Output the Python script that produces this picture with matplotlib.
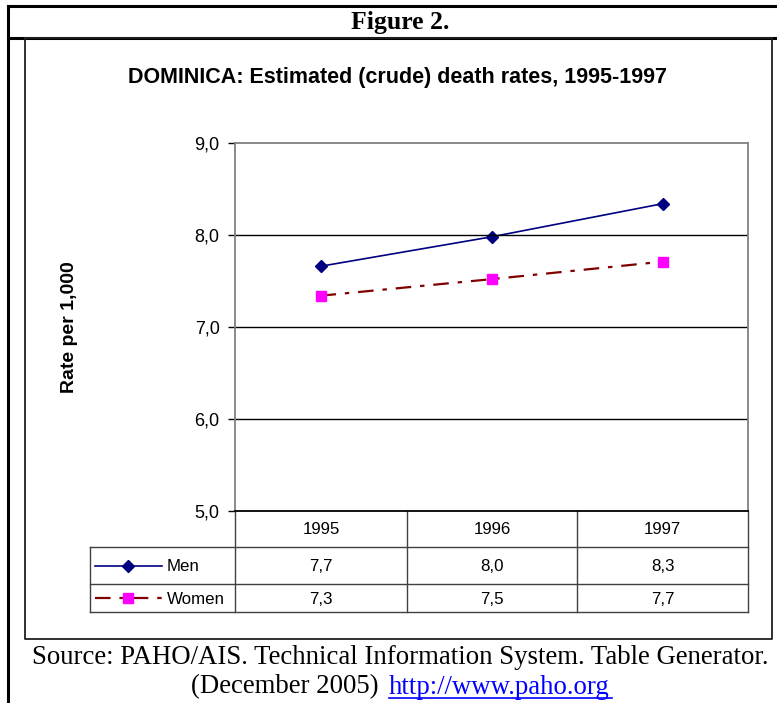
import matplotlib
matplotlib.use('Agg')
import matplotlib.pyplot as plt
import numpy as np

years = ['1995', '1996', '1997']
men = [7.66, 7.98, 8.34]
women = [7.34, 7.52, 7.71]
yticks = [5.0, 6.0, 7.0, 8.0, 9.0]

W, H = 777, 703
fig = plt.figure(figsize=(W / 100, H / 100), dpi=100)

def box(x0, y0, x1, y1):
    # pixel box (top-left origin) -> figure fraction rect
    return [x0 / W, 1 - y1 / H, (x1 - x0) / W, (y1 - y0) / H]

# overlay in pixel coordinates for frame, table and texts
ov = fig.add_axes([0, 0, 1, 1])
ov.set_xlim(0, W)
ov.set_ylim(H, 0)
ov.axis('off')

sans = 'Liberation Sans'
serif = 'Liberation Serif'

# outer frame
ov.plot([8, 777], [6, 6], color='k', lw=2.2)
ov.plot([8, 777], [38, 38], color='k', lw=2.2)
ov.plot([8, 8], [6, 703], color='k', lw=2.2)
ov.text(400, 23, 'Figure 2.', ha='center', va='center', family=serif,
        fontweight='bold', fontsize=18.5)

# chart box
ov.plot([25, 25, 772, 772, 25], [38, 639, 639, 38, 38], color='#202020', lw=1.3)

ov.text(397, 77, 'DOMINICA: Estimated (crude) death rates, 1995-1997',
        ha='center', va='center', family=sans, fontweight='bold', fontsize=15.5)
ov.text(69, 327, 'Rate per 1,000', rotation=90, ha='center', va='center',
        family=sans, fontweight='bold', fontsize=14)

# plot area
x0, x1, y0, y1 = 235, 748, 143, 511
ax = fig.add_axes(box(x0, y0, x1, y1))
xs = np.arange(len(years))
ax.plot(xs, men, color='#000080', lw=1.2, marker='D', ms=6.5,
        mfc='#000080', mec='#000080')
ax.plot(xs, women, color='#800000', lw=1.6, ls=(0, (7, 4, 2, 4)),
        marker='s', ms=7, mfc='#FF00FF', mec='#FF00FF')
ax.set_xlim(-0.5, len(years) - 0.5)
ax.set_ylim(yticks[0], yticks[-1])
ax.set_yticks(yticks)
ax.set_yticklabels([f'{v:.1f}'.replace('.', ',') for v in yticks],
                   family=sans, fontsize=13)
ax.set_xticks([])
for v in yticks[1:-1]:
    ax.axhline(v, color='k', lw=1.0)
for s in ['left', 'top', 'right']:
    ax.spines[s].set_color('#808080')
    ax.spines[s].set_linewidth(1.3)
ax.spines['bottom'].set_color('k')
ax.spines['bottom'].set_linewidth(1.3)
ax.tick_params(axis='y', length=5, width=1, color='k', pad=6)

# data table
cols = [x0, 407, 577, x1]
rows = [y1, 547, 584, 612]
tc = '#404040'
ov.plot([90, x1], [rows[1], rows[1]], color=tc, lw=1)
ov.plot([90, x1], [rows[2], rows[2]], color=tc, lw=1)
ov.plot([90, x1], [rows[3], rows[3]], color=tc, lw=1)
ov.plot([90, 90], [rows[1], rows[3]], color=tc, lw=1)
for c in cols:
    ov.plot([c, c], [rows[0], rows[3]], color=tc, lw=1)

fs = 12.2
for i, yr in enumerate(years):
    cx = (cols[i] + cols[i + 1]) / 2
    ov.text(cx, (rows[0] + rows[1]) / 2 + 1, yr, ha='center', va='center',
            family=sans, fontsize=fs)
    ov.text(cx, (rows[1] + rows[2]) / 2 + 1, f'{men[i]:.1f}'.replace('.', ','),
            ha='center', va='center', family=sans, fontsize=fs)
    ov.text(cx, (rows[2] + rows[3]) / 2 + 1, f'{women[i]:.1f}'.replace('.', ','),
            ha='center', va='center', family=sans, fontsize=fs)

ym = (rows[1] + rows[2]) / 2
yw = (rows[2] + rows[3]) / 2
ov.plot([95, 162], [ym, ym], color='#000080', lw=1.2)
ov.plot([128], [ym], marker='D', ms=6.5, color='#000080')
ov.text(167, ym + 1, 'Men', ha='left', va='center', family=sans, fontsize=fs)
ov.plot([95, 162], [yw, yw], color='#800000', lw=1.6, ls=(0, (7, 4, 2, 4)))
ov.plot([128], [yw], marker='s', ms=7, color='#FF00FF')
ov.text(167, yw + 1, 'Women', ha='left', va='center', family=sans, fontsize=fs)

# source
ov.text(400, 658, 'Source: PAHO/AIS. Technical Information System. Table Generator.',
        ha='center', va='center', family=serif, fontsize=19.3)
ov.text(285, 687, '(December 2005)', ha='center', va='center', family=serif,
        fontsize=19.3)
ov.text(389, 687, 'http://www.paho.org', ha='left', va='center',
        family=serif, fontsize=19.3, color='#0000FF')
ov.plot([389, 612], [698, 698], color='#0000FF', lw=1.2)

fig.savefig('out.png', dpi=100)
